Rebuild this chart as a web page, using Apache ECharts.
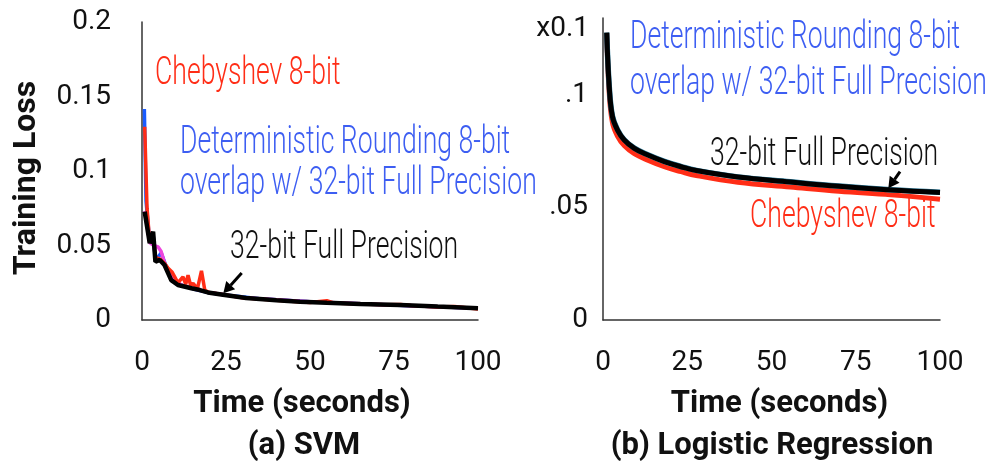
<!DOCTYPE html>
<html>
<head>
<meta charset="utf-8">
<script src="https://cdn.jsdelivr.net/npm/echarts@6/dist/echarts.min.js"></script>
<style>
html,body{margin:0;padding:0;background:#fff;}
#c{width:1003px;height:471px;}
</style>
</head>
<body>
<div id="c"></div>
<script>
// ---------- data ----------
const xTicks = ['0', '25', '50', '75', '100'];
const svmYTicks = ['0', '0.05', '0.1', '0.15', '0.2'];
const lrYTicks = ['0', '.05', '.1'];

// (a) SVM
const svmFullTime = [0.8, 2.3, 3.3, 4.0, 5.3, 6.7, 8.7, 10.7, 14.7, 17.2, 19.6, 24.1, 31, 40, 47, 55, 65, 76.8, 88, 100];
const svmFullLoss = [0.0727, 0.0515, 0.0593, 0.0391, 0.0403, 0.0369, 0.0268, 0.0235, 0.0213, 0.0201, 0.0185, 0.0170, 0.0148, 0.0133, 0.0123, 0.0115, 0.0108, 0.0101, 0.0090, 0.0079];

const svmChebTime = [0.8, 1.5, 2.3, 3.3, 4.0, 5.3, 6.7, 7.7, 9, 10.7, 12.2, 13.0, 13.7, 14.5, 15.2, 16.5, 17.7, 18.7, 20, 24, 30, 40, 50, 55, 57, 65, 72, 77, 80, 88, 93, 100];
const svmChebLoss = [0.1297, 0.075, 0.052, 0.057, 0.042, 0.041, 0.038, 0.035, 0.032, 0.025, 0.029, 0.024, 0.030, 0.023, 0.0246, 0.021, 0.033, 0.020, 0.0185, 0.0172, 0.0150, 0.0133, 0.0118, 0.0130, 0.0114, 0.0108, 0.0103, 0.0104, 0.0098, 0.0088, 0.0090, 0.0074];

const svmDetTime = [0.7, 1.2, 2.3, 3.3, 4.0, 5.7, 7.2, 9, 11, 15, 20, 25, 35, 50, 70, 100];
const svmDetLoss = [0.1416, 0.08, 0.052, 0.058, 0.040, 0.045, 0.036, 0.028, 0.024, 0.021, 0.0183, 0.0168, 0.0143, 0.0122, 0.0104, 0.0079];

const svmOtherTime = [0.8, 2.3, 3.5, 4.8, 5.7, 7, 9, 12, 20, 30, 50, 75, 100];
const svmOtherLoss = [0.073, 0.052, 0.050, 0.049, 0.046, 0.036, 0.028, 0.023, 0.0185, 0.015, 0.0122, 0.0101, 0.0079];

// (b) Logistic Regression
const lrTime = [1.1, 1.85, 2.8, 4.3, 6.3, 9.3, 13.3, 18.2, 23.2, 27.7, 40, 55.6, 70, 85.4, 100];
const lrFullLoss = [0.1277, 0.1037, 0.0904, 0.0844, 0.0800, 0.0763, 0.0733, 0.0704, 0.0681, 0.0664, 0.0635, 0.0613, 0.0594, 0.0578, 0.0567];
const lrDetLoss  = [0.1277, 0.1040, 0.0906, 0.0846, 0.0801, 0.0764, 0.0734, 0.0705, 0.0682, 0.0665, 0.0636, 0.0614, 0.0595, 0.0579, 0.0568];
const lrChebLoss = [0.1275, 0.1008, 0.0877, 0.0817, 0.0775, 0.0739, 0.0710, 0.0681, 0.0659, 0.0642, 0.0612, 0.0591, 0.0572, 0.0556, 0.0537];

// ---------- helpers ----------
const zip = (a, b) => a.map((v, i) => [v, b[i]]);
const RED = '#ff2d16', BLUE_TXT = '#3d5ef2', BLUE = '#1a5cff', BLACK = '#000', MAG = '#ee44dd';
const TICK_FONT = {fontFamily: 'Roboto', fontWeight: 'normal', fontSize: 28, color: '#111'};
const TITLE_FONT = {fontFamily: 'Roboto', fontWeight: 'bold', fontSize: 31, color: '#111'};

function note(text, x, y, color) {
  return {
    type: 'text', x: x, y: y, scaleX: 0.70, z: 100,
    style: {text: text, fill: color, fontFamily: 'Roboto', fontWeight: 300, fontSize: 38,
            align: 'left', verticalAlign: 'middle', textAlign: 'left', textVerticalAlign: 'middle'}
  };
}
function arrow(x1, y1, x2, y2) {
  const ang = Math.atan2(y2 - y1, x2 - x1);
  const L = 11, W = 6;
  const bx = x2 - L * Math.cos(ang), by = y2 - L * Math.sin(ang);
  const px = -Math.sin(ang) * W, py = Math.cos(ang) * W;
  return [
    {type: 'line', z: 100, shape: {x1: x1, y1: y1, x2: bx, y2: by}, style: {stroke: '#000', lineWidth: 3}},
    {type: 'polygon', z: 100, shape: {points: [[x2, y2], [bx + px, by + py], [bx - px, by - py]]}, style: {fill: '#000'}}
  ];
}
function centerText(text, x, y, font, rot) {
  return {type: 'text', x: x, y: y, rotation: rot || 0, z: 100,
    style: {text: text, fill: font.color, fontFamily: font.fontFamily, fontWeight: font.fontWeight, fontSize: font.fontSize,
      align: 'center', verticalAlign: 'middle', textAlign: 'center', textVerticalAlign: 'middle'}};
}

const axisLine = {show: true, lineStyle: {color: '#333', width: 1.5}};

const xAxisBase = (gi, pad) => ({
  type: 'value', gridIndex: gi, min: 0, max: 100, interval: 25,
  axisLine: axisLine, axisTick: {show: false}, splitLine: {show: false},
  axisLabel: Object.assign({margin: 29, formatter: v => xTicks[Math.round(v / 25)] ?? ''}, TICK_FONT),
  name: 'Time (seconds)', nameLocation: 'middle', nameGap: 69,
  nameTextStyle: Object.assign({padding: pad}, TITLE_FONT)
});

const option = {
  animation: false,
  backgroundColor: '#fff',
  grid: [
    {left: 142, top: 22, width: 336, height: 298},
    {left: 603, top: 18, width: 337, height: 302}
  ],
  xAxis: [xAxisBase(0, [0, 16, 0, 0]), xAxisBase(1, [0, 0, 0, 16])],
  yAxis: [
    {type: 'value', gridIndex: 0, min: 0, max: 0.2, interval: 0.05,
     axisLine: axisLine, axisTick: {show: false}, splitLine: {show: false},
     axisLabel: Object.assign({margin: 31, formatter: v => svmYTicks[Math.round(v / 0.05)] ?? ''}, TICK_FONT)},
    {type: 'value', gridIndex: 1, min: 0, max: 0.1342, interval: 0.05,
     axisLine: axisLine, axisTick: {show: false}, splitLine: {show: false},
     axisLabel: Object.assign({margin: 15, showMaxLabel: false,
       formatter: v => { const k = v / 0.05; return Math.abs(k - Math.round(k)) < 1e-6 ? (lrYTicks[Math.round(k)] ?? '') : ''; }}, TICK_FONT)}
  ],
  series: [
    {name: 'Deterministic Rounding 8-bit', type: 'line', xAxisIndex: 0, yAxisIndex: 0, data: zip(svmDetTime, svmDetLoss),
     showSymbol: false, lineStyle: {color: BLUE, width: 3.5}, z: 2},
    {name: 'Other 8-bit', type: 'line', xAxisIndex: 0, yAxisIndex: 0, data: zip(svmOtherTime, svmOtherLoss),
     showSymbol: false, lineStyle: {color: MAG, width: 3.5}, z: 3},
    {name: 'Chebyshev 8-bit', type: 'line', xAxisIndex: 0, yAxisIndex: 0, data: zip(svmChebTime, svmChebLoss),
     showSymbol: false, lineStyle: {color: RED, width: 3.5}, z: 4},
    {name: '32-bit Full Precision', type: 'line', xAxisIndex: 0, yAxisIndex: 0, data: zip(svmFullTime, svmFullLoss),
     showSymbol: false, lineStyle: {color: BLACK, width: 4.5}, z: 5},

    {name: 'Chebyshev 8-bit (LR)', type: 'line', xAxisIndex: 1, yAxisIndex: 1, data: zip(lrTime, lrChebLoss),
     smooth: 0.4, showSymbol: false, lineStyle: {color: RED, width: 5}, z: 2},
    {name: 'Deterministic Rounding 8-bit (LR)', type: 'line', xAxisIndex: 1, yAxisIndex: 1, data: zip(lrTime, lrDetLoss),
     smooth: 0.4, showSymbol: false, lineStyle: {color: '#2a7a9a', width: 5.5}, z: 3},
    {name: '32-bit Full Precision (LR)', type: 'line', xAxisIndex: 1, yAxisIndex: 1, data: zip(lrTime, lrFullLoss),
     smooth: 0.4, showSymbol: false, lineStyle: {color: BLACK, width: 5}, z: 4}
  ],
  graphic: [].concat(
    [
      note('Chebyshev 8-bit', 155, 74, RED),
      note('Deterministic Rounding 8-bit', 180, 143, BLUE_TXT),
      note('overlap w/ 32-bit Full Precision', 180, 184, BLUE_TXT),
      note('32-bit Full Precision', 230, 248, '#111'),
      note('Deterministic Rounding 8-bit', 630, 38, BLUE_TXT),
      note('overlap w/ 32-bit Full Precision', 630, 84, BLUE_TXT),
      note('32-bit Full Precision', 710, 155, '#111'),
      note('Chebyshev 8-bit', 750, 217, RED),
      {type: 'text', x: 589, y: 29, z: 100, style: {text: 'x0.1', fill: '#111', fontFamily: 'Roboto', fontWeight: 'normal', fontSize: 28,
        align: 'right', verticalAlign: 'middle', textAlign: 'right', textVerticalAlign: 'middle'}},
      centerText('Training Loss', 27, 178, Object.assign({}, TITLE_FONT, {fontSize: 32}), Math.PI / 2),
      centerText('(a) SVM', 304, 446, TITLE_FONT),
      centerText('(b) Logistic Regression', 772, 446, TITLE_FONT)
    ],
    arrow(241.7, 273, 223.3, 293.3),
    arrow(900, 171.7, 888.3, 188.3)
  )
};

const chart = echarts.init(document.getElementById('c'), null, {renderer: 'canvas'});
chart.setOption(option);
</script>
</body>
</html>
